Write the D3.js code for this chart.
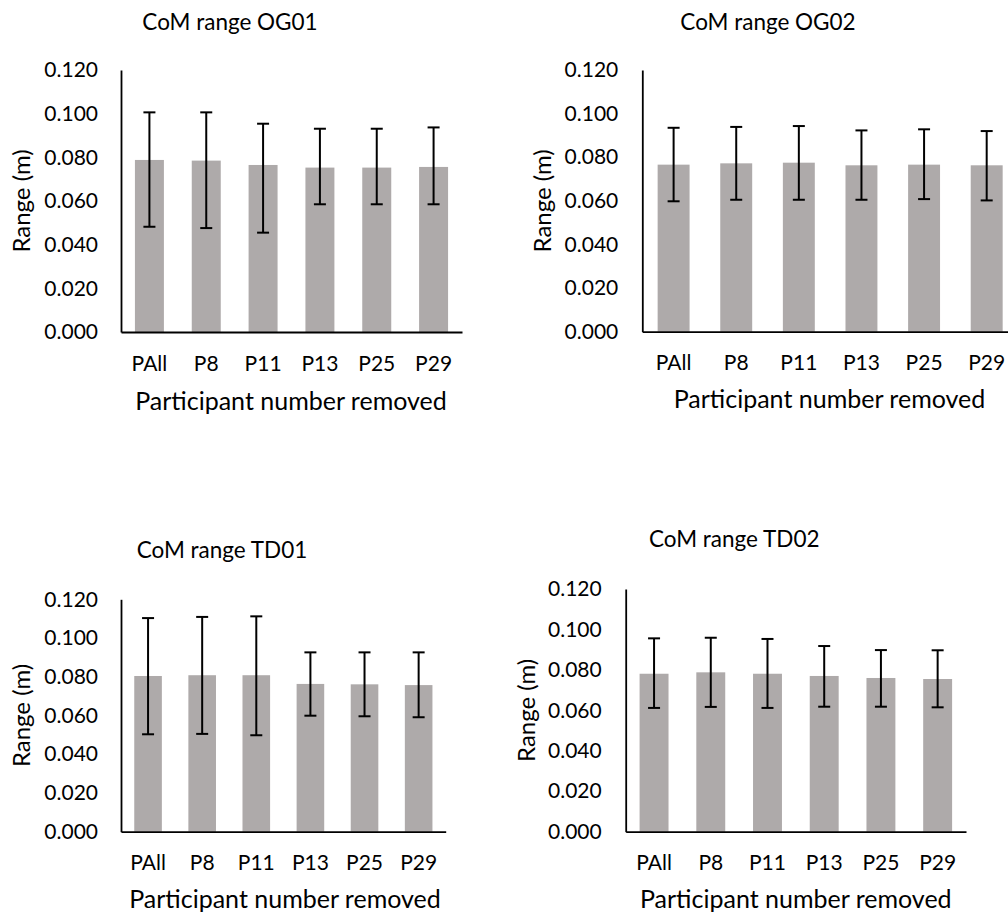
<!DOCTYPE html>
<html>
<head>
<meta charset="utf-8">
<script src="https://cdn.jsdelivr.net/npm/d3@7"></script>
<style>
  html, body { margin: 0; padding: 0; background: #fff; }
  svg { display: block; }
  text { font-family: Lato, "Open Sans", sans-serif; fill: #000; }
</style>
</head>
<body>
<svg id="chart" width="1008" height="914"></svg>
<script>
// ---------------- data ----------------
const categories = ["PAll", "P8", "P11", "P13", "P25", "P29"];
const yTickValues = [0, 0.02, 0.04, 0.06, 0.08, 0.10, 0.12];
const panelTitles = ["CoM range OG01", "CoM range OG02", "CoM range TD01", "CoM range TD02"];
const xAxisTitle = "Participant number removed";
const yAxisTitle = "Range (m)";

const og01Values  = [0.0788, 0.0785, 0.0765, 0.0753, 0.0753, 0.0756];
const og01ErrHigh = [0.1006, 0.1006, 0.0954, 0.0931, 0.0931, 0.0937];
const og01ErrLow  = [0.0482, 0.0476, 0.0455, 0.0585, 0.0585, 0.0585];

const og02Values  = [0.0766, 0.0772, 0.0775, 0.0763, 0.0766, 0.0763];
const og02ErrHigh = [0.0935, 0.0939, 0.0943, 0.0923, 0.0928, 0.0920];
const og02ErrLow  = [0.0598, 0.0605, 0.0605, 0.0605, 0.0608, 0.0602];

const td01Values  = [0.0804, 0.0808, 0.0808, 0.0763, 0.0761, 0.0757];
const td01ErrHigh = [0.1103, 0.1109, 0.1112, 0.0926, 0.0926, 0.0926];
const td01ErrLow  = [0.0503, 0.0505, 0.0498, 0.0599, 0.0596, 0.0591];

const td02Values  = [0.0781, 0.0788, 0.0781, 0.0770, 0.0760, 0.0755];
const td02ErrHigh = [0.0956, 0.0959, 0.0953, 0.0918, 0.0898, 0.0897];
const td02ErrLow  = [0.0612, 0.0617, 0.0612, 0.0618, 0.0618, 0.0615];

// ---------------- layout ----------------
const layouts = [
  { left: 121,   right: 462,  top: 70,    bottom: 332,   titleX: 230,   titleY: 30,  yTitleX: 22,    xTitleX: 291,   xTitleY: 410, tickPadX: 23, xLabelY: 371 },
  { left: 642.3, right: 1018, top: 70,    bottom: 331.7, titleX: 768,   titleY: 30,  yTitleX: 543,   xTitleX: 829.5, xTitleY: 408, tickPadX: 24, xLabelY: 370 },
  { left: 121,   right: 445.7,top: 599.3, bottom: 831.7, titleX: 222,   titleY: 558, yTitleX: 22,    xTitleX: 285,   xTitleY: 908, tickPadX: 23, xLabelY: 870 },
  { left: 625.7, right: 966,  top: 589,   bottom: 831.7, titleX: 734.3, titleY: 547, yTitleX: 526.7, xTitleX: 795.8, xTitleY: 908, tickPadX: 24, xLabelY: 870 }
];

const panelData = [
  { values: og01Values, hi: og01ErrHigh, lo: og01ErrLow },
  { values: og02Values, hi: og02ErrHigh, lo: og02ErrLow },
  { values: td01Values, hi: td01ErrHigh, lo: td01ErrLow },
  { values: td02Values, hi: td02ErrHigh, lo: td02ErrLow }
];

const FONT = 21;
const TITLE_FONT = 22.5;
const AXIS_TITLE_FONT = 25;
const barColor = "#AEAAAA";
const svg = d3.select("#chart");

panelData.forEach((pd, i) => {
  const L = layouts[i];
  const g = svg.append("g");

  const x = d3.scaleBand().domain(categories).range([L.left, L.right]).paddingInner(0.49).paddingOuter(0.245);
  const y = d3.scaleLinear().domain([0, 0.12]).range([L.bottom, L.top]);

  const rows = categories.map((c, k) => ({ c, v: pd.values[k], hi: pd.hi[k], lo: pd.lo[k] }));

  // bars
  g.selectAll("rect.bar").data(rows).join("rect")
    .attr("class", "bar")
    .attr("x", d => x(d.c))
    .attr("width", x.bandwidth())
    .attr("y", d => y(d.v))
    .attr("height", d => y(0) - y(d.v))
    .attr("fill", barColor);

  // error bars
  const cx = d => x(d.c) + x.bandwidth() / 2;
  const capW = 6;
  const eb = g.selectAll("g.err").data(rows).join("g").attr("class", "err")
    .attr("stroke", "#000").attr("stroke-width", 2);
  eb.append("line").attr("x1", cx).attr("x2", cx).attr("y1", d => y(d.hi)).attr("y2", d => y(d.lo));
  eb.append("line").attr("x1", d => cx(d) - capW).attr("x2", d => cx(d) + capW).attr("y1", d => y(d.hi)).attr("y2", d => y(d.hi));
  eb.append("line").attr("x1", d => cx(d) - capW).attr("x2", d => cx(d) + capW).attr("y1", d => y(d.lo)).attr("y2", d => y(d.lo));

  // y axis
  const yAxis = d3.axisLeft(y).tickValues(yTickValues).tickFormat(d3.format(".3f"))
    .tickSize(0).tickSizeOuter(0).tickPadding(L.tickPadX);
  const ya = g.append("g").attr("transform", `translate(${L.left},0)`).call(yAxis);
  ya.select(".domain").attr("stroke", "#000").attr("stroke-width", 1.8);
  ya.selectAll("text").attr("font-size", FONT).attr("font-family", "Lato, sans-serif").attr("fill", "#000");

  // x axis
  const xAxis = d3.axisBottom(x).tickSize(0).tickSizeOuter(0).tickPadding(0);
  const xa = g.append("g").attr("transform", `translate(0,${L.bottom})`).call(xAxis);
  xa.select(".domain").attr("stroke", "#000").attr("stroke-width", 1.8);
  xa.selectAll("text").attr("font-size", FONT).attr("font-family", "Lato, sans-serif").attr("fill", "#000")
    .attr("dy", null).attr("y", L.xLabelY - L.bottom);

  // titles
  g.append("text").attr("x", L.titleX).attr("y", L.titleY).attr("text-anchor", "middle")
    .attr("font-size", TITLE_FONT).text(panelTitles[i]);
  g.append("text").attr("x", L.xTitleX)
    .attr("y", L.xTitleY).attr("text-anchor", "middle")
    .attr("font-size", AXIS_TITLE_FONT).text(xAxisTitle);
  const yMid = (L.top + L.bottom) / 2;
  g.append("text").attr("transform", `translate(${L.yTitleX},${yMid}) rotate(-90)`)
    .attr("text-anchor", "middle").attr("dy", "0.35em")
    .attr("font-size", 24).text(yAxisTitle);
});
</script>
</body>
</html>
